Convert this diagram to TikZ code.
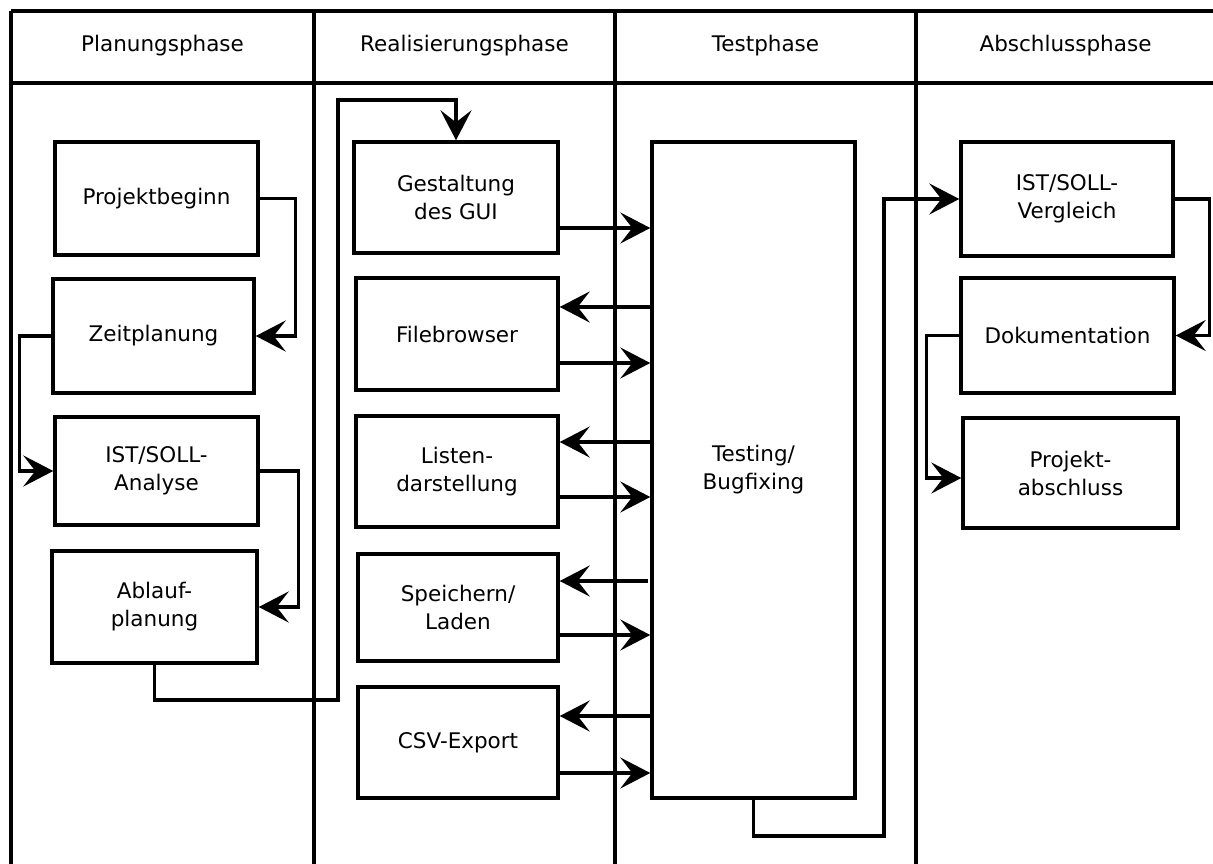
\documentclass[tikz,border=0pt]{standalone}
\usepackage{fontspec}
\setmainfont{DejaVu Sans}
\usetikzlibrary{arrows.meta}
\begin{document}
\begin{tikzpicture}[x=1pt,y=-1pt,line width=3.4pt,
  txt/.style={font=\fontsize{21.5}{28}\selectfont, align=center, inner sep=0pt},
  box/.style={txt, draw, line width=3.4pt},
  conn/.style={draw, line width=3.4pt, -{Stealth[length=30pt,width=31pt,inset=12pt]}},
  plain/.style={draw, line width=3.4pt}]
\useasboundingbox (0,0) rectangle (1213,864);
% table
\draw[plain] (11,11) -- (1213,11);
\draw[plain] (11,83) -- (1213,83);
\foreach \x in {11,314,615,916} \draw[plain] (\x,11) -- (\x,866);
\node[txt] (h1) at (162.5,46) {Planungsphase};
\node[txt] (h2) at (464.5,46) {Realisierungsphase};
\node[txt] (h3) at (765.5,46) {Testphase};
\node[txt] (h4) at (1065.5,46) {Abschlussphase};
% Planungsphase
\node[box, minimum width=203pt, minimum height=113pt] (pb) at (156.5,198.5) {Projektbeginn};
\node[box, minimum width=201pt, minimum height=114pt] (zp) at (153.5,336) {Zeitplanung};
\node[box, minimum width=203pt, minimum height=108pt] (ia) at (156.5,471) {IST/SOLL-\\Analyse};
\node[box, minimum width=205pt, minimum height=112pt] (ap) at (154.5,607) {Ablauf-\\planung};
% Realisierungsphase
\node[box, minimum width=204pt, minimum height=111pt] (gg) at (456,197.5) {Gestaltung\\des GUI};
\node[box, minimum width=202pt, minimum height=112pt] (fb) at (457,334) {Filebrowser};
\node[box, minimum width=202pt, minimum height=111pt] (ld) at (457,471.5) {Listen-\\darstellung};
\node[box, minimum width=200pt, minimum height=107pt] (sl) at (458,607.5) {Speichern/\\Laden};
\node[box, minimum width=200pt, minimum height=111pt] (cv) at (458,742.5) {CSV-Export};
% Testphase
\node[box, minimum width=203pt, minimum height=656pt] (tb) at (753.5,470) {Testing/\\Bugfixing};
% Abschlussphase
\node[box, minimum width=212pt, minimum height=114pt] (vg) at (1067,199) {IST/SOLL-\\Vergleich};
\node[box, minimum width=213pt, minimum height=115pt] (dk) at (1067.5,335.5) {Dokumentation};
\node[box, minimum width=215pt, minimum height=110pt] (pa) at (1070.5,473) {Projekt-\\abschluss};
% connectors Planungsphase
\draw[conn] (pb.east) -- ++(36,0) |- (zp.east);
\draw[conn] (zp.west) -- ++(-32,0) |- (ia.west);
\draw[conn] (ia.east) -- ++(39,0) |- (ap.east);
\coordinate (c1) at (338,700);
\coordinate (c2) at (338,100);
\draw[conn] (ap.south) |- (c1) -- (c2) -| (gg.north);
% Realisierung <-> Test
\coordinate (y1) at (0,228);
\coordinate (y2) at (0,307);
\coordinate (y3) at (0,363);
\coordinate (y4) at (0,442);
\coordinate (y5) at (0,497);
\coordinate (y6) at (648,581);
\coordinate (y7) at (0,635);
\coordinate (y8) at (0,716);
\coordinate (y9) at (0,773);
\draw[conn] (gg.east |- y1) -- (tb.west |- y1);
\draw[conn] (tb.west |- y2) -- (fb.east |- y2);
\draw[conn] (fb.east |- y3) -- (tb.west |- y3);
\draw[conn] (tb.west |- y4) -- (ld.east |- y4);
\draw[conn] (ld.east |- y5) -- (tb.west |- y5);
\draw[conn] (y6) -- (sl.east |- y6);
\draw[conn] (sl.east |- y7) -- (tb.west |- y7);
\draw[conn] (tb.west |- y8) -- (cv.east |- y8);
\draw[conn] (cv.east |- y9) -- (tb.west |- y9);
% Test -> Abschluss
\coordinate (c3) at (884,836);
\draw[conn] (tb.south) |- (c3) |- (vg.west);
% Abschluss
\draw[conn] (vg.east) -- ++(35,0) |- (dk.east);
\coordinate (y10) at (0,478);
\draw[conn] (dk.west) -- ++(-33,0) |- (pa.west |- y10);
\end{tikzpicture}
\end{document}
